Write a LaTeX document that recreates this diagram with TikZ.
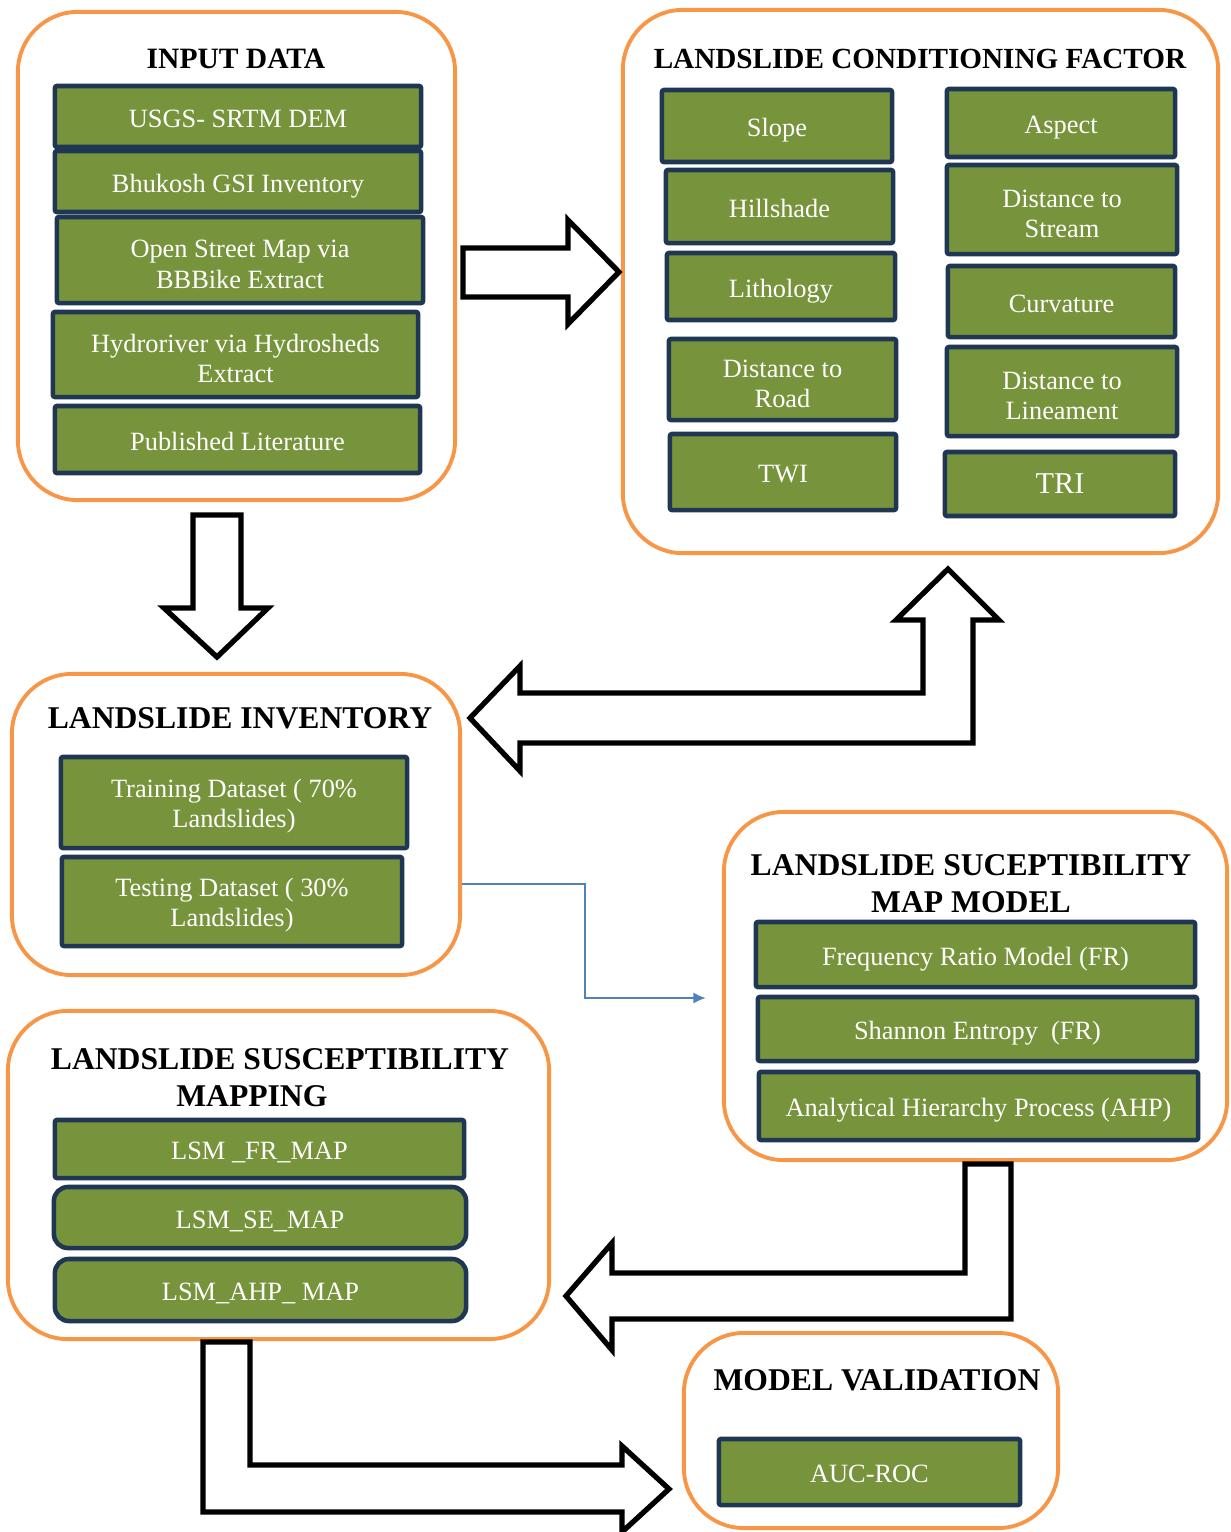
\documentclass[tikz,border=0pt]{standalone}
\usepackage{fontspec}
\setmainfont{Liberation Serif}
\usepackage{xcolor}
\usepackage{tikz}
\usetikzlibrary{arrows.meta}

\definecolor{panelorange}{HTML}{F79646}
\definecolor{boxgreen}{HTML}{77933C}
\definecolor{boxnavy}{HTML}{1F3753}
\definecolor{linkblue}{HTML}{4F81BD}

\begin{document}
\begin{tikzpicture}[x=0.01cm, y=-0.01cm,
    panel/.style={draw=panelorange, line width=1.1pt, rounded corners=0.6cm, inner sep=0pt},
    factor/.style={draw=boxnavy, fill=boxgreen, line width=1.3pt, rounded corners=0.6pt, inner sep=0pt,
        text=white, align=center, font=\fontsize{7.5}{8.6}\selectfont},
    single/.style={text height=6.4pt, text depth=0.3pt},
    double/.style={text height=16pt},
    title/.style={inner sep=0pt, align=center, font=\bfseries\fontsize{#1}{10.5}\selectfont},
    title/.default=9,
    bigarrow/.style={draw=black, fill=white, line width=1.5pt, line join=miter},
    link/.style={draw=linkblue, line width=0.7pt, -{Latex[length=3.6pt, width=3.2pt]}}]
    \useasboundingbox (0,0) rectangle (1231,1532);

    % panels
    \node[panel, minimum width=4.37cm, minimum height=4.88cm] (inputpanel) at (236.5,256) {};
    \node[panel, minimum width=5.95cm, minimum height=5.43cm] (factorpanel) at (920.5,281.5) {};
    \node[panel, minimum width=4.48cm, minimum height=3.01cm] (inventorypanel) at (236,824.5) {};
    \node[panel, minimum width=5.03cm, minimum height=3.48cm] (modelpanel) at (975.5,986) {};
    \node[panel, minimum width=5.41cm, minimum height=3.28cm] (mappingpanel) at (278.5,1175) {};
    \node[panel, minimum width=3.74cm, minimum height=1.95cm] (validationpanel) at (871,1430.5) {};

    \node[title=8.4] (inputtitle) at (236,59) {INPUT DATA};
    \node[title=8.3] (factortitle) at (920,59) {LANDSLIDE CONDITIONING FACTOR};
    \node[title] (inventorytitle) at (240,718) {LANDSLIDE INVENTORY};
    \node[title] (modeltitle) at (971,883.5) {LANDSLIDE SUCEPTIBILITY\\MAP MODEL};
    \node[title] (mappingtitle) at (280,1077.5) {LANDSLIDE SUSCEPTIBILITY\\MAPPING\hspace*{16pt}};
    \node[title] (validationtitle) at (877,1380) {MODEL VALIDATION};

    % input data
    \node[factor, single, minimum width=3.66cm, minimum height=0.61cm] (srtm) at (238,116.5) {USGS- SRTM DEM};
    \node[factor, single, minimum width=3.66cm, minimum height=0.61cm] (bhukosh) at (238,181.5) {Bhukosh GSI Inventory};
    \node[factor, double, minimum width=3.66cm, minimum height=0.86cm] (osm) at (240,260) {Open Street Map via\\BBBike Extract};
    \node[factor, double, minimum width=3.65cm, minimum height=0.85cm] (hydroriver) at (235.5,354.5) {Hydroriver via Hydrosheds\\Extract};
    \node[factor, single, minimum width=3.65cm, minimum height=0.67cm] (literature) at (237.5,439.5) {Published Literature};

    % conditioning factors
    \node[factor, single, minimum width=2.30cm, minimum height=0.72cm] (slope) at (777,126) {Slope};
    \node[factor, single, minimum width=2.27cm, minimum height=0.73cm] (hillshade) at (779.5,206.5) {Hillshade};
    \node[factor, single, minimum width=2.28cm, minimum height=0.67cm] (lithology) at (781,286.5) {Lithology};
    \node[factor, double, minimum width=2.27cm, minimum height=0.81cm] (road) at (782.5,379.5) {Distance to\\Road};
    \node[factor, single, minimum width=2.26cm, minimum height=0.76cm] (twi) at (783,472) {TWI};
    \node[factor, single, minimum width=2.28cm, minimum height=0.68cm] (aspect) at (1061,123) {Aspect};
    \node[factor, double, minimum width=2.30cm, minimum height=0.89cm] (stream) at (1062,209.5) {Distance to\\Stream};
    \node[factor, single, minimum width=2.27cm, minimum height=0.71cm] (curvature) at (1061.5,301.5) {Curvature};
    \node[factor, double, minimum width=2.30cm, minimum height=0.89cm] (lineament) at (1062,391.5) {Distance to\\Lineament};
    \node[factor, minimum width=2.30cm, minimum height=0.64cm, font=\fontsize{8.6}{10}\selectfont] (tri) at (1060,484) {TRI};

    % inventory
    \node[factor, double, minimum width=3.46cm, minimum height=0.91cm] (training) at (234,802.5) {Training Dataset ( 70\%\\Landslides)};
    \node[factor, double, minimum width=3.40cm, minimum height=0.89cm] (testing) at (232,901.5) {Testing Dataset ( 30\%\\Landslides)};

    % models
    \node[factor, single, minimum width=4.39cm, minimum height=0.65cm] (frmodel) at (975.5,954.5) {Frequency Ratio Model (FR)};
    \node[factor, single, minimum width=4.39cm, minimum height=0.64cm] (semodel) at (977.5,1029) {Shannon Entropy\ \ (FR)};
    \node[factor, single, minimum width=4.39cm, minimum height=0.68cm] (ahpmodel) at (978.5,1106) {Analytical Hierarchy Process (AHP)};

    % maps
    \node[factor, single, minimum width=4.09cm, minimum height=0.58cm] (frmap) at (259.5,1149) {LSM \_FR\_MAP};
    \node[factor, single, minimum width=4.12cm, minimum height=0.61cm, rounded corners=4pt] (semap) at (260,1217.5) {LSM\_SE\_MAP};
    \node[factor, single, minimum width=4.11cm, minimum height=0.62cm, rounded corners=4pt] (ahpmap) at (260.5,1290) {LSM\_AHP\_ MAP};

    % validation
    \node[factor, single, minimum width=3.01cm, minimum height=0.66cm] (aucroc) at (869.5,1472) {AUC-ROC};

    % block arrows
    \draw[bigarrow] (463,248) -- (568,248) -- (568,220) -- (619,272) -- (568,324) -- (568,297) -- (463,297) -- cycle;
    \draw[bigarrow] (193,515) -- (241,515) -- (241,608) -- (268,608) -- (217,657) -- (164,608) -- (193,608) -- cycle;
    \draw[bigarrow] (470,718) -- (520,666) -- (520,693) -- (923,693) -- (923,620) -- (896,620) -- (948,569)
        -- (999,620) -- (973,620) -- (973,743) -- (520,743) -- (520,771) -- cycle;
    \draw[bigarrow] (965,1164) -- (1011,1164) -- (1011,1319) -- (612,1319) -- (612,1350) -- (566,1296)
        -- (612,1243) -- (612,1273) -- (965,1273) -- cycle;
    \draw[bigarrow] (203,1342) -- (250,1342) -- (250,1465) -- (622,1465) -- (622,1446) -- (669,1489)
        -- (622,1532) -- (622,1512) -- (203,1512) -- cycle;

    % testing data to the models
    \coordinate (linkstart) at (inventorypanel.east |- 0,884);
    \coordinate (linkend) at (706,998);
    \draw[link] (linkstart) -- (585,884) |- (linkend);
\end{tikzpicture}
\end{document}
